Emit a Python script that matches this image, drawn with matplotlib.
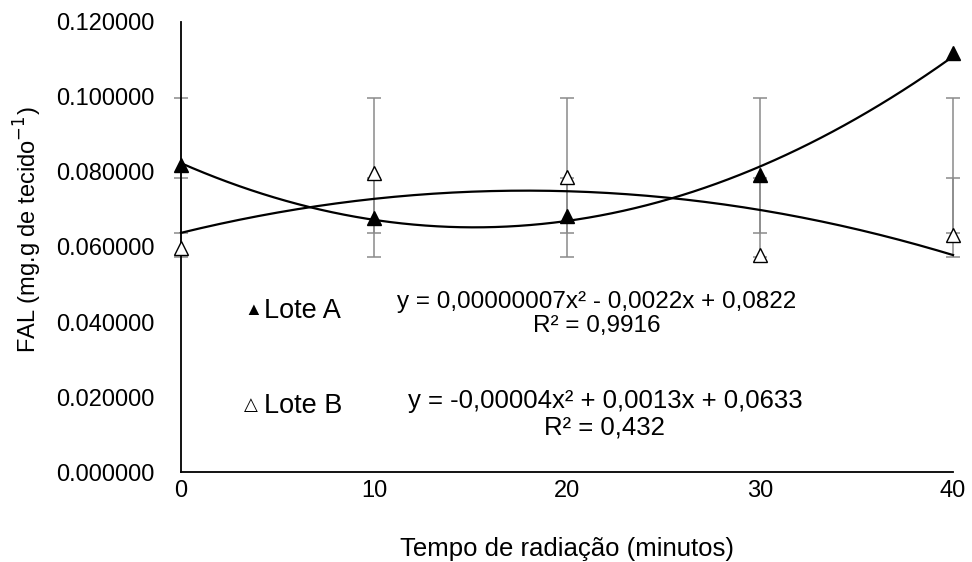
import numpy as np
import matplotlib
matplotlib.use("Agg")
import matplotlib.pyplot as plt
from matplotlib.ticker import FormatStrFormatter

plt.rcParams['font.family'] = ['Liberation Sans', 'DejaVu Sans']

tempo = [0, 10, 20, 30, 40]
lote_a = [0.0819, 0.0677, 0.0683, 0.0792, 0.1117]
lote_b = [0.0597, 0.0797, 0.0787, 0.0579, 0.0632]
eq_a = "y = 0,00000007x² - 0,0022x + 0,0822\nR² = 0,9916"
eq_b = "y = -0,00004x² + 0,0013x + 0,0633\nR² = 0,432"
y_ticks = [0.0, 0.02, 0.04, 0.06, 0.08, 0.10, 0.12]

fig = plt.figure(figsize=(9.72, 5.62), dpi=100)
ax = fig.add_axes([0.1862, 0.160, 0.7943, 0.801])

# Excel style error bars: series mean +/- standard deviation
for vals in (lote_a, lote_b):
    m = np.mean(vals)
    sd = np.std(vals, ddof=1)
    ax.errorbar(tempo, [m] * len(tempo), yerr=sd, fmt='none', ecolor='#8a8a8a',
                elinewidth=1.1, capsize=5, capthick=1.1, clip_on=False, zorder=2)

# polynomial trend lines (order 2)
xs = np.linspace(0, 40, 200)
for vals in (lote_a, lote_b):
    c = np.polyfit(tempo, vals, 2)
    ax.plot(xs, np.polyval(c, xs), color='black', lw=1.6, clip_on=False, zorder=3)

ax.plot(tempo, lote_a, linestyle='none', marker='^', ms=10, mfc='black', mec='black',
        clip_on=False, zorder=4)
ax.plot(tempo, lote_b, linestyle='none', marker='^', ms=10, mfc='white', mec='black',
        mew=1.0, clip_on=False, zorder=4)

ax.set_xlim(0, 40)
ax.set_ylim(0, 0.12)
ax.set_xticks(tempo)
ax.set_yticks(y_ticks)
ax.yaxis.set_major_formatter(FormatStrFormatter('%.6f'))
ax.tick_params(length=0, labelsize=17)
ax.tick_params(axis='y', pad=19)
ax.tick_params(axis='x', pad=6)
for s in ('top', 'right'):
    ax.spines[s].set_visible(False)
for s in ('left', 'bottom'):
    ax.spines[s].set_linewidth(1.3)

ax.set_xlabel('Tempo de radiação (minutos)', fontsize=18.5, labelpad=25)
ax.set_ylabel('FAL (mg.g de tecido$^{-1}$)', fontsize=17)
ax.yaxis.set_label_coords(-0.178, 0.538)

ax.text(0.082, 0.358, '▲', transform=ax.transAxes, fontsize=13, va='center')
ax.text(0.108, 0.358, 'Lote A', transform=ax.transAxes, fontsize=19.5, va='center')
ax.text(0.082, 0.147, '△', transform=ax.transAxes, fontsize=13, va='center')
ax.text(0.108, 0.147, 'Lote B', transform=ax.transAxes, fontsize=19.5, va='center')
ax.text(0.538, 0.351, eq_a, transform=ax.transAxes, fontsize=17.5, ha='center',
        va='center', linespacing=1.15)
ax.text(0.549, 0.129, eq_b, transform=ax.transAxes, fontsize=18.5, ha='center',
        va='center', linespacing=1.15)

fig.savefig('out.png', dpi=100)
